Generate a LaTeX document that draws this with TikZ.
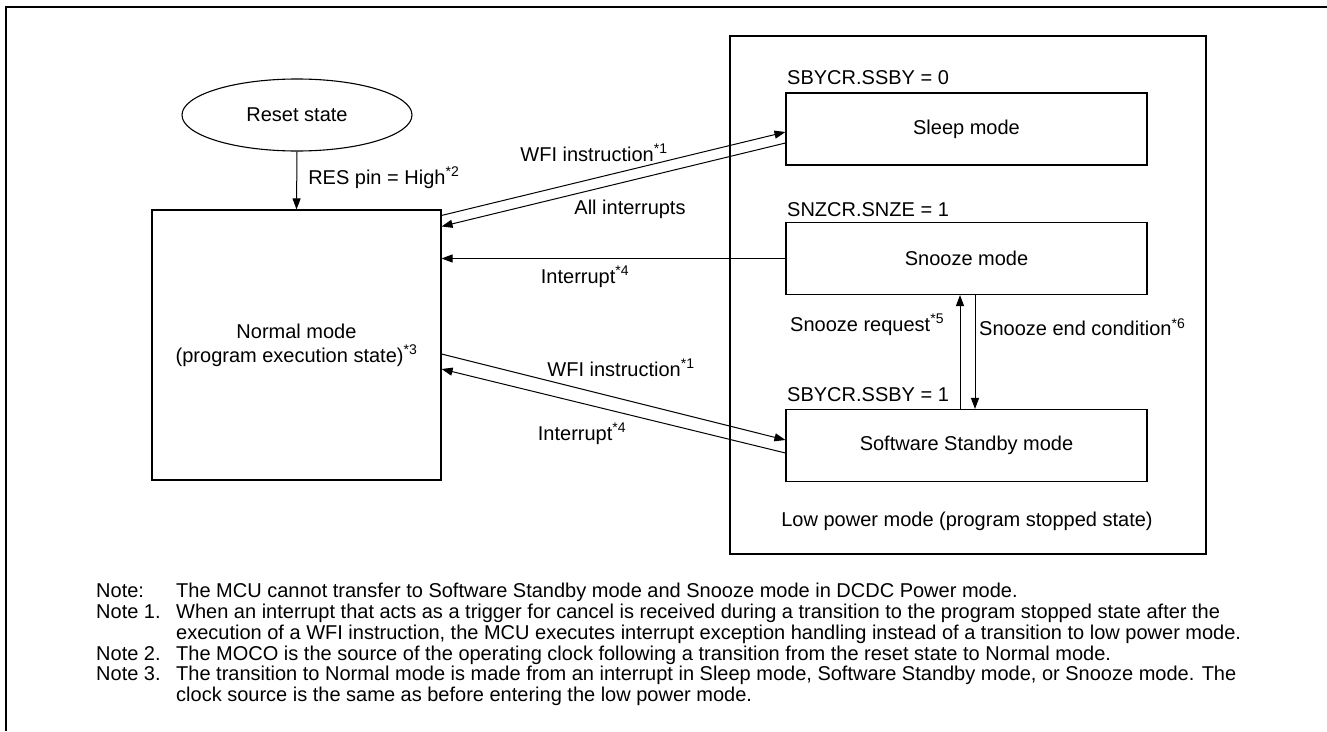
\documentclass[tikz,border=0pt]{standalone}
\usepackage{fontspec}
\setmainfont{Liberation Sans}
\usetikzlibrary{arrows.meta,positioning,shapes.geometric}

\begin{document}
\begin{tikzpicture}[x=1pt, y=-1pt,
		font=\fontsize{20}{24}\selectfont,
		modebox/.style={draw, line width=1.1pt, minimum height=72pt, minimum width=361pt},
		trans/.style={-{Triangle[length=11pt, width=8pt]}, line width=1pt},
		lbl/.style={inner sep=0pt},
		notetxt/.style={anchor=base west, inner sep=0pt, font=\fontsize{20}{21}\selectfont}]
		\useasboundingbox (0,0) rectangle (1327,731);
		\draw[line width=2pt] (6,731) -- (6,7) -- (1327,7);

		\path
		(297,115) node[draw, ellipse, line width=1.1pt, minimum width=230pt, minimum height=72pt] (reset) {Reset state}
		(296.5,345) node[draw, line width=1.1pt, minimum height=270pt, minimum width=289pt, align=center] (normal) {Normal mode\\(program execution state)\textsuperscript{*3}}
		(968,295) node[draw, line width=1.1pt, minimum height=518pt, minimum width=476pt] (lowpower) {}
		(966.5,129) node[modebox] (sleep) {Sleep mode}
		(966.5,258.5) node[modebox] (snooze) {Snooze mode}
		(966.5,445.5) node[modebox] (standby) {Software Standby mode};

		\path
		(787,78) node[lbl, anchor=west] (ssby0) {SBYCR.SSBY = 0}
		(787,210) node[lbl, anchor=west] (snze1) {SNZCR.SNZE = 1}
		(787,395) node[lbl, anchor=west] (ssby1) {SBYCR.SSBY = 1}
		(967,521) node[lbl] (lowlbl) {Low power mode (program stopped state)};

		\draw[trans] (reset.south) -- (normal.north) node[lbl, pos=0.45, right=11pt] (res) {RES pin = High\textsuperscript{*2}};
		\draw[trans] ([yshift=-6pt]normal.north east) -- ([yshift=-3pt]sleep.west);
		\draw[trans] ([yshift=-14pt]sleep.west) -- ([yshift=-17pt]normal.north east);
		\draw[trans] (snooze.west) -- (snooze.west -| normal.east);
		\draw[trans] ([yshift=-9pt]normal.east) -- ([yshift=5.5pt]standby.west);
		\draw[trans] ([yshift=-7.5pt]standby.west) -- ([yshift=-24pt]normal.east);
		\draw[trans] ([xshift=-6.5pt]standby.north) -- ([xshift=-6.5pt]snooze.south);
		\draw[trans] ([xshift=8.5pt]snooze.south) -- ([xshift=8.5pt]standby.north);

		\path
		(594,153) node[lbl] (wfiup) {WFI instruction\textsuperscript{*1}}
		(630,209) node[lbl] (allint) {All interrupts}
		(585,277) node[lbl] (intmid) {Interrupt\textsuperscript{*4}}
		(621,368) node[lbl] (wfilow) {WFI instruction\textsuperscript{*1}}
		(582,434) node[lbl] (intlow) {Interrupt\textsuperscript{*4}}
		(790,325) node[lbl, anchor=west] (snzreq) {Snooze request\textsuperscript{*5}}
		(979,327) node[lbl, anchor=west] (snzend) {Snooze end condition\textsuperscript{*6}};

		% notes
		\path
		(96,597) node[notetxt] (n0) {Note:}
		(176,597) node[notetxt] (n0t) {The MCU cannot transfer to Software Standby mode and Snooze mode in DCDC Power mode.}
		(96,618) node[notetxt] (n1) {Note 1.}
		(176,618) node[notetxt] (n1t) {When an interrupt that acts as a trigger for cancel is received during a transition to the program stopped state after the}
		(176,639) node[notetxt] (n1u) {execution of a WFI instruction, the MCU executes interrupt exception handling instead of a transition to low power mode.}
		(96,660) node[notetxt] (n2) {Note 2.}
		(176,660) node[notetxt] (n2t) {The MOCO is the source of the operating clock following a transition from the reset state to Normal mode.}
		(96,680) node[notetxt] (n3) {Note 3.}
		(176,680) node[notetxt] (n3t) {The transition to Normal mode is made from an interrupt in Sleep mode, Software Standby mode, or Snooze mode. The}
		(176,701) node[notetxt] (n3u) {clock source is the same as before entering the low power mode.};
	\end{tikzpicture}
\end{document}
